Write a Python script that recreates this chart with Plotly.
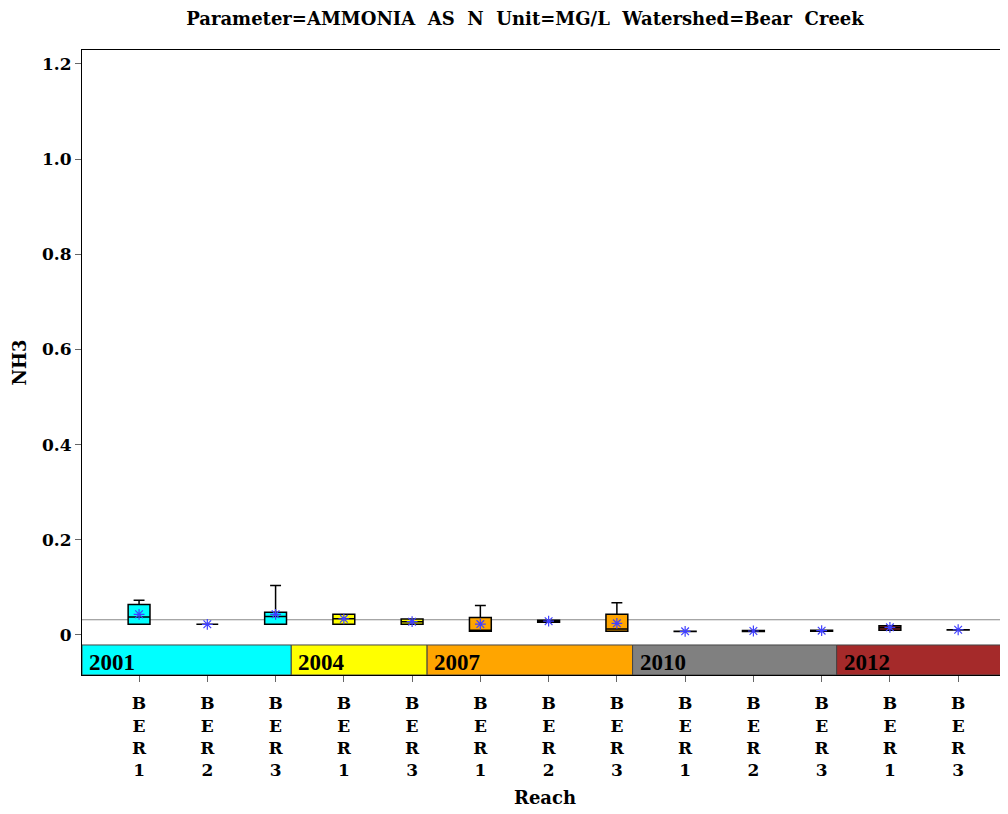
import plotly.graph_objects as go

reach = ["BER1", "BER2", "BER3", "BER1", "BER3", "BER1", "BER2", "BER3",
         "BER1", "BER2", "BER3", "BER1", "BER3"]
year = ["2001", "2001", "2001", "2004", "2004", "2007", "2007", "2007",
        "2010", "2010", "2010", "2012", "2012"]
q1 = [0.0225, 0.0225, 0.0225, 0.0225, 0.0225, 0.0077, 0.027, 0.0077,
      0.0075, 0.0075, 0.0078, 0.0098, 0.0105]
median = [0.038, 0.0225, 0.039, 0.034, 0.028, 0.009, 0.029, 0.0125,
          0.0077, 0.0083, 0.009, 0.015, 0.011]
q3 = [0.064, 0.0225, 0.048, 0.0435, 0.0336, 0.037, 0.031, 0.0435,
      0.0077, 0.0092, 0.0098, 0.0195, 0.0112]
upper = [0.073, 0.0225, 0.104, 0.0435, 0.0336, 0.062, 0.031, 0.068,
         0.0077, 0.0092, 0.0098, 0.0195, 0.0112]
lower = q1
mean = [0.0435, 0.0225, 0.0435, 0.034, 0.028, 0.023, 0.029, 0.0245,
        0.0077, 0.0084, 0.009, 0.016, 0.011]
year_colors = {"2001": "#00FFFF", "2004": "#FFFF00", "2007": "#FFA500",
               "2010": "#808080", "2012": "#A52A2A"}
year_edges = {"2001": (None, 2.23), "2004": (2.23, 4.22), "2007": (4.22, 7.23),
              "2010": (7.23, 10.22), "2012": (10.22, None)}
ref_value = 0.032
ytick_vals = [0, 0.2, 0.4, 0.6, 0.8, 1.0, 1.2]
ytick_text = ["0", "0.2", "0.4", "0.6", "0.8", "1.0", "1.2"]

XMIN, XMAX = -0.836, 12.73
YMIN, YMAX = -0.0841, 1.2294
BAND_LO, BAND_HI = -0.0841, -0.021

FONT = "DejaVu Serif"
W, H = 1000, 806
fig = go.Figure()

xs = list(range(len(reach)))
for yr, col in year_colors.items():
    idx = [i for i in xs if year[i] == yr]
    fig.add_trace(go.Box(
        x=[xs[i] for i in idx],
        q1=[q1[i] for i in idx], median=[median[i] for i in idx],
        q3=[q3[i] for i in idx], lowerfence=[lower[i] for i in idx],
        upperfence=[upper[i] for i in idx],
        fillcolor=col, line=dict(color="black", width=1.5),
        width=0.32, whiskerwidth=0.5, boxpoints=False, showlegend=False,
        hoverinfo="skip"))

fig.add_trace(go.Scatter(
    x=xs, y=mean, mode="markers", showlegend=False,
    marker=dict(symbol="asterisk-open", size=9, color="#4040ff",
                line=dict(color="#4040ff", width=1.2))))

shapes = [dict(type="line", xref="paper", x0=0, x1=1, yref="y",
               y0=ref_value, y1=ref_value, line=dict(color="#888888", width=1.2),
               layer="below")]
for yr, (a, b) in year_edges.items():
    x0 = XMIN if a is None else a
    x1 = XMAX + 0.1 if b is None else b
    shapes.append(dict(type="rect", xref="x", yref="y", x0=x0, x1=x1,
                       y0=BAND_LO, y1=BAND_HI, fillcolor=year_colors[yr],
                       line=dict(color="#444444", width=1), layer="above"))
    fig.add_annotation(x=x0, y=(BAND_LO + BAND_HI) / 2, xref="x", yref="y",
                       text="<b>" + yr + "</b>", showarrow=False, xanchor="left",
                       yanchor="middle", xshift=5, yshift=-3,
                       font=dict(family="Liberation Serif", size=23,
                                 color="black"))

fig.update_layout(
    width=W, height=H,
    margin=dict(l=74, r=0, t=42, b=139, pad=0),
    plot_bgcolor="white", paper_bgcolor="white",
    boxmode="overlay",
    shapes=shapes,
    font=dict(family=FONT, size=17, color="black", weight="bold"),
    title=dict(
        text="Parameter=AMMONIA  AS  N  Unit=MG/L  Watershed=Bear  Creek",
        x=517 / W, xanchor="center", y=1 - 11 / H, yanchor="middle",
        font=dict(family=FONT, size=18, color="black", weight="bold")),
)

fig.update_xaxes(
    range=[XMIN, XMAX], tickvals=xs,
    ticktext=["<br>".join(list(r)) for r in reach],
    ticks="outside", ticklen=6, tickcolor="#666666", tickwidth=1,
    ticklabelstandoff=7,
    showline=True, linecolor="black", linewidth=1, mirror=True,
    showgrid=False, zeroline=False,
    tickfont=dict(family=FONT, size=17, color="black", weight="bold"),
    title=dict(text="Reach", font=dict(family=FONT, size=18, weight="bold"),
               standoff=12))
fig.update_yaxes(
    range=[YMIN, YMAX], tickvals=ytick_vals, ticktext=ytick_text,
    ticks="outside", ticklen=6, tickcolor="#666666", tickwidth=1,
    showline=True, linecolor="black", linewidth=1, mirror=False,
    showgrid=False, zeroline=False,
    tickfont=dict(family=FONT, size=17, color="black", weight="bold"),
    title=dict(text="NH3", font=dict(family=FONT, size=18, weight="bold"),
               standoff=10))

fig.write_html("out.html")
